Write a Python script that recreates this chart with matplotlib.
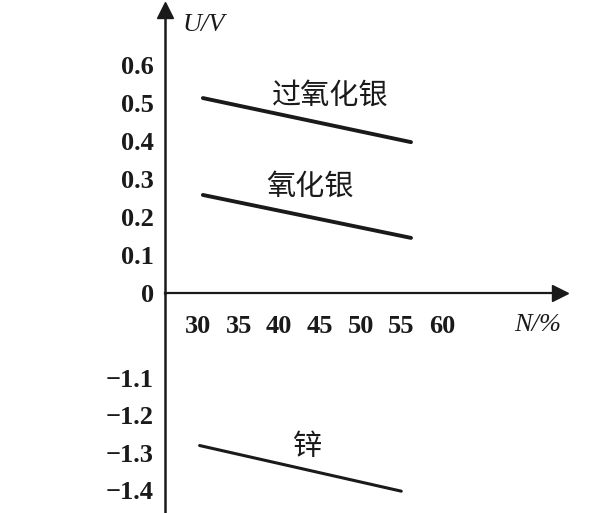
import matplotlib
matplotlib.use("Agg")
import matplotlib.pyplot as plt

# data
n_ag = [30.6, 56.2]        # x extent of the two silver lines
u_ag2o2 = [0.513, 0.397]   # 过氧化银
u_ag2o = [0.258, 0.145]    # 氧化银
n_zn = [30.2, 55.0]
u_zn = [-1.281, -1.403]    # 锌

xticks = [30, 35, 40, 45, 50, 55, 60]
yticks_top = [0, 0.1, 0.2, 0.3, 0.4, 0.5, 0.6]
ytick_top_labels = ['0', '0.1', '0.2', '0.3', '0.4', '0.5', '0.6']
yticks_bot = [-1.1, -1.2, -1.3, -1.4]
ytick_bot_labels = ['\u22121.1', '\u22121.2', '\u22121.3', '\u22121.4']

serif = ['Liberation Serif', 'DejaVu Serif']
cjk = ['Noto Sans CJK SC', 'DejaVu Sans']
ink = '#1a1a1a'

W, H = 605, 513
fig = plt.figure(figsize=(W / 100, H / 100), dpi=100)

x0, x1 = 165, 560          # pixel x of y-axis and arrow tip
y_zero = 293               # pixel y of x-axis
xlim = (30 - (198 - x0) / 8.13, 30 + (x1 - 198) / 8.13)

ax = fig.add_axes([x0 / W, (H - y_zero) / H, (x1 - x0) / W, (y_zero - 10) / H])
axb = fig.add_axes([x0 / W, 0, (x1 - x0) / W, (H - y_zero) / H])

ax.set_xlim(*xlim)
ax.set_ylim(0, (y_zero - 10) / 380)
axb.set_xlim(*xlim)
axb.set_ylim(-1.4 - 23 / 375, -1.1 + 85 / 375)

for a in (ax, axb):
    for s in ('top', 'right'):
        a.spines[s].set_visible(False)
    a.spines['left'].set_linewidth(1.8)
    a.spines['left'].set_color(ink)
    a.patch.set_alpha(0)
    a.tick_params(length=0, labelsize=19, colors=ink)
ax.spines['bottom'].set_linewidth(1.6)
ax.spines['bottom'].set_color(ink)
axb.spines['bottom'].set_visible(False)

ax.set_yticks(yticks_top)
ax.set_yticklabels(ytick_top_labels, family=serif, weight='bold')
ax.tick_params(axis='y', pad=8)
ax.set_xticks(xticks)
ax.set_xticklabels([str(v) for v in xticks], family=serif, weight='bold')
ax.tick_params(axis='x', pad=16)

axb.set_yticks(yticks_bot)
axb.set_yticklabels(ytick_bot_labels, family=serif, weight='bold')
axb.tick_params(axis='y', pad=8)
axb.set_xticks([])

# arrows
ax.plot(0, 1, marker='^', ms=11, color=ink, transform=ax.transAxes, clip_on=False)
ax.plot(1, 0, marker='>', ms=11, color=ink, transform=ax.transAxes, clip_on=False)

# data lines
ax.plot(n_ag, u_ag2o2, color=ink, lw=2.8, solid_capstyle='round')
ax.plot(n_ag, u_ag2o, color=ink, lw=2.8, solid_capstyle='round')
axb.plot(n_zn, u_zn, color=ink, lw=2.2, solid_capstyle='round')

ax.text(46.2, 0.52, '过氧化银', family=cjk, fontsize=21, color=ink, ha='center', va='center')
ax.text(43.8, 0.279, '氧化银', family=cjk, fontsize=21, color=ink, ha='center', va='center')
axb.text(43.5, -1.285, '锌', family=cjk, fontsize=21, color=ink, ha='center', va='center')

# axis names
fig.text((x0 + 18) / W, 1 - 25 / H, 'U/V', fontsize=19, style='italic', family=serif,
         color=ink, ha='left', va='center')
fig.text(538 / W, 1 - 325 / H, 'N/%', fontsize=19, style='italic', family=serif,
         color=ink, ha='center', va='center')

fig.savefig('out.png', dpi=100)
